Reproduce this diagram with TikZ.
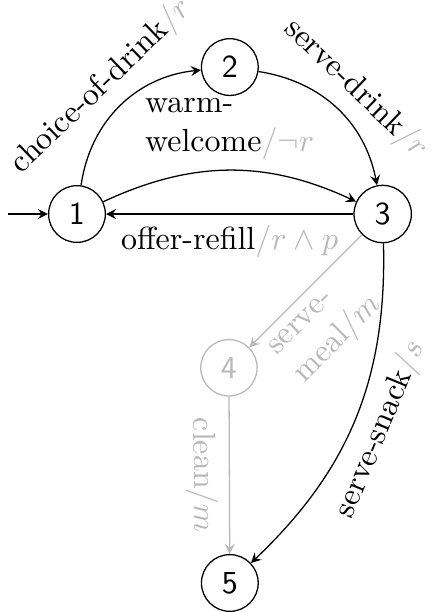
\documentclass[tikz,border=0pt]{standalone}
\usepackage{amsmath, amssymb}
\colorlet{faded}{black!28}
\newcommand{\act}[2]{#1\textcolor{faded}{$/#2$}}

\begin{document}
\begin{tikzpicture}[>=stealth, state/.style={draw, circle, font=\sffamily}]
        \useasboundingbox (-0.846,-4.374) rectangle (3.901,2.352);
        \node[state] (s1) at (0,0) {1};
        \node[state] (s2) at (1.68,1.615) {2};
        \node[state] (s3) at (3.36,0) {3};
        \node[state, faded] (s4) at (1.67,-1.69) {4};
        \node[state] (s5) at (1.68,-4.055) {5};
        \coordinate (start) at (-0.758,0);
        \draw[->] (start) -- (s1);
        \draw[->] (s1) to[bend left=38] node[sloped, above] {\act{choice-of-drink}{r}} (s2);
        \draw[->] (s1) to[bend left=25] node[above, align=left] {warm-\\\act{welcome}{\neg r}} (s3);
        \draw[->] (s2) to[bend left=35] node[sloped, above] {\act{serve-drink}{r}} (s3);
        \draw[->] (s3) -- node[below] {\act{offer-refill}{r \wedge p}} (s1);
        \draw[->, faded] (s3) -- node[sloped, below, pos=0.57, align=left, text=faded] {serve-\\meal$/m$} (s4);
        \draw[->] (s3) to[bend left=24] node[sloped, below] {\act{serve-snack}{s}} (s5);
        \draw[->, faded] (s4) -- node[sloped, below, text=faded] {clean$/m$} (s5);
\end{tikzpicture}
\end{document}
